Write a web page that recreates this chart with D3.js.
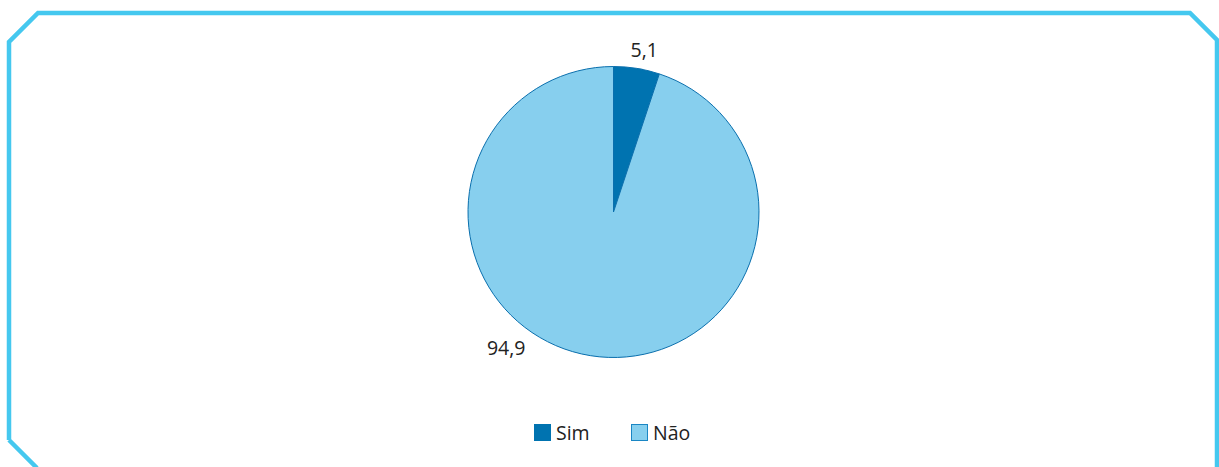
<!DOCTYPE html>
<html>
<head>
<meta charset="utf-8">
<script src="https://cdn.jsdelivr.net/npm/d3@7"></script>
<style>
  html, body { margin: 0; padding: 0; background: #fff; }
  svg { display: block; }
  text { font-family: "Open Sans", "Noto Sans", sans-serif; fill: #222; }
</style>
</head>
<body>
<svg id="chart" width="1219" height="467"></svg>
<script>
// Respostas (%)
const categories = ["Sim", "Não"];
const values = [5.1, 94.9];
const valueLabels = ["5,1", "94,9"];
const colors = ["#0073b0", "#87cfee"];

const svg = d3.select("#chart");

// Chamfered frame
svg.append("path")
  .attr("d", "M9,440 L9,42 L38,13 L1190,13 L1217,40 L1217,480 M9,440 L37,468")
  .attr("fill", "none")
  .attr("stroke", "#45c8ef")
  .attr("stroke-width", 4.5)
  .attr("stroke-linejoin", "miter");

const cx = 613.5, cy = 212, r = 145.5;
const pie = d3.pie().sort(null).value(d => d)(values);
const arc = d3.arc().innerRadius(0).outerRadius(r);

const g = svg.append("g").attr("transform", `translate(${cx},${cy})`);
g.selectAll("path.slice")
  .data(pie)
  .join("path")
  .attr("class", "slice")
  .attr("d", arc)
  .attr("fill", (d, i) => colors[i])
  .attr("stroke", "#0a6fad")
  .attr("stroke-width", 1);

// Value labels, placed outside the rim a little past each slice's middle
const labelAngle = d => d.startAngle + (d.endAngle - d.startAngle) * 0.585;
const labelR = [165, 173.5];
g.selectAll("text.val")
  .data(pie)
  .join("text")
  .attr("class", "val")
  .attr("x", (d, i) => Math.sin(labelAngle(d)) * labelR[i])
  .attr("y", (d, i) => -Math.cos(labelAngle(d)) * labelR[i])
  .attr("text-anchor", "middle")
  .attr("dy", "0.36em")
  .attr("font-size", 19.5)
  .text((d, i) => valueLabels[i]);

// Legend
const legend = svg.append("g").attr("transform", "translate(534,424)");
const offsets = [0, 97];
categories.forEach((c, i) => {
  const item = legend.append("g").attr("transform", `translate(${offsets[i]},0)`);
  item.append("rect")
    .attr("x", 0.5).attr("y", 0.5)
    .attr("width", 16).attr("height", 16)
    .attr("fill", colors[i])
    .attr("stroke", i === 0 ? colors[i] : "#1a86c4")
    .attr("stroke-width", 1);
  item.append("text")
    .attr("x", 22).attr("y", 15.5)
    .attr("font-size", 19.5)
    .text(c);
});
</script>
</body>
</html>
